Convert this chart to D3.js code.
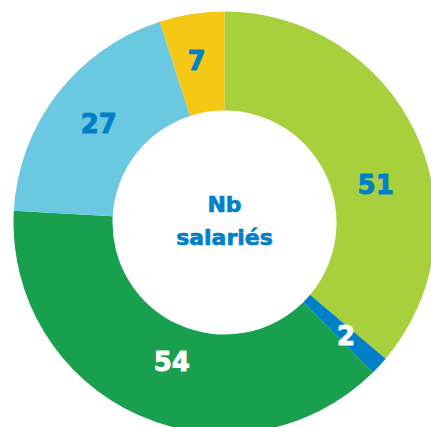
<!DOCTYPE html>
<html>
<head>
<meta charset="utf-8">
<script src="https://cdn.jsdelivr.net/npm/d3@7"></script>
<style>
  html, body { margin: 0; padding: 0; background: #ffffff; }
  svg { display: block; }
</style>
</head>
<body>
<div id="chart"></div>
<script>
// Headcount split, drawn clockwise from 12 o'clock
const categories = ["A", "B", "C", "D", "E"];
const values = [51, 2, 54, 27, 7];
const colors = ["#a8d03c", "#0080c8", "#19a04e", "#6ac9e0", "#f4c814"];
const labelColors = ["#0080c8", "#ffffff", "#ffffff", "#0080c8", "#0080c8"];
const centerTitle = ["Nb", "salariés"];

const width = 431, height = 427;
const cx = 224.5, cy = 222.5;
const outerR = 211, innerR = 112, labelR = 160;

// small hand offsets so each number sits where it reads best in its slice
const labelNudge = [[6, 29], [4, 4], [13, -7], [1, -1], [-3, -4]];

const svg = d3.select("#chart").append("svg")
  .attr("width", width)
  .attr("height", height);

const g = svg.append("g").attr("transform", `translate(${cx},${cy})`);

const pie = d3.pie().sort(null).value(d => d.value);
const arcs = pie(values.map((v, i) => ({ key: categories[i], value: v, i })));

const arc = d3.arc().innerRadius(innerR).outerRadius(outerR);
const labelArc = d3.arc().innerRadius(labelR).outerRadius(labelR);

g.selectAll("path.slice")
  .data(arcs)
  .join("path")
  .attr("class", "slice")
  .attr("d", arc)
  .attr("fill", d => colors[d.data.i]);

// numbers get a thin same-colour stroke for a heavier, black-weight look
g.selectAll("text.value")
  .data(arcs)
  .join("text")
  .attr("class", "value")
  .attr("transform", d => {
    const [x, y] = labelArc.centroid(d);
    const [nx, ny] = labelNudge[d.data.i];
    return `translate(${x + nx},${y + ny})`;
  })
  .attr("text-anchor", "middle")
  .attr("dy", "0.36em")
  .attr("font-family", "'DejaVu Sans', sans-serif")
  .attr("font-weight", "bold")
  .attr("font-size", 26)
  .attr("fill", d => labelColors[d.data.i])
  .attr("stroke", d => labelColors[d.data.i])
  .attr("stroke-width", 0.9)
  .attr("stroke-linejoin", "round")
  .text(d => d.data.value);

g.selectAll("text.center")
  .data(centerTitle)
  .join("text")
  .attr("class", "center")
  .attr("x", 0)
  .attr("y", (d, i) => (i === 0 ? -10.5 : 22.5))
  .attr("text-anchor", "middle")
  .attr("font-family", "'DejaVu Sans', sans-serif")
  .attr("font-weight", "bold")
  .attr("font-size", 22)
  .attr("fill", "#0080c8")
  .attr("stroke", "#0080c8")
  .attr("stroke-width", 0.7)
  .attr("stroke-linejoin", "round")
  .text(d => d);
</script>
</body>
</html>
